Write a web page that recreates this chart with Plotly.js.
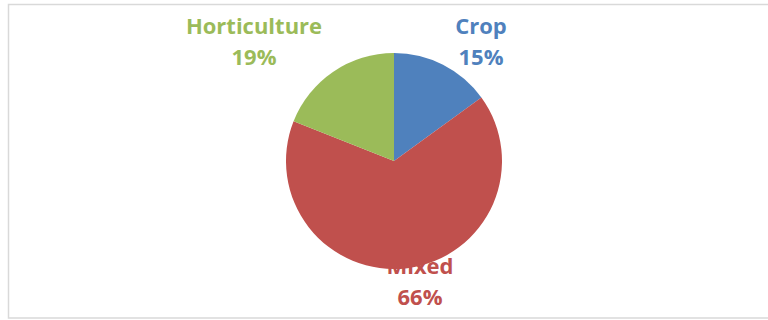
<!DOCTYPE html>
<html>
<head>
<meta charset="utf-8">
<script src="https://cdn.plot.ly/plotly-3.0.1.min.js"></script>
<style>html,body{margin:0;padding:0;background:#fff;}#chart{width:768px;height:320px;}</style>
</head>
<body>
<div id="chart"></div>
<script>
const categories = ["Crop", "Mixed", "Horticulture"];
const shares = [15, 66, 19];
const percentLabels = ["15%", "66%", "19%"];
const colors = ["#4F81BD", "#C0504D", "#9BBB59"];

// label centres in paper fractions (name line, percent line)
const labelPos = [
  {x: 481 / 768, y1: 1 - 27 / 320, y2: 1 - 58 / 320},
  {x: 420 / 768, y1: 1 - 267 / 320, y2: 1 - 298 / 320},
  {x: 254 / 768, y1: 1 - 27 / 320, y2: 1 - 58 / 320}
];

const shapes = [{
  type: "rect", xref: "paper", yref: "paper",
  x0: 8.5 / 768, x1: 1.02, y0: 2 / 320, y1: 1 - 4.5 / 320,
  line: {color: "#D9D9D9", width: 1.5}, fillcolor: "rgba(0,0,0,0)", layer: "below"
}];

categories.forEach((c, i) => {
  const p = labelPos[i];
  [[c, p.y1], [percentLabels[i], p.y2]].forEach(([t, y]) => {
    shapes.push({
      type: "rect", xref: "paper", yref: "paper", layer: "below",
      x0: p.x - 0.1, x1: p.x + 0.1, y0: y - 0.05, y1: y + 0.05,
      line: {width: 0, color: "rgba(0,0,0,0)"}, fillcolor: "rgba(0,0,0,0)",
      label: {text: "<b>" + t + "</b>", textposition: "middle center",
        font: {family: "Open Sans", size: 22, color: colors[i]}}
    });
  });
});

const data = [{
  type: "pie",
  labels: categories,
  values: shares,
  marker: {colors: colors, line: {width: 0}},
  sort: false,
  direction: "clockwise",
  rotation: 0,
  textinfo: "none",
  hoverinfo: "none",
  showlegend: false,
  domain: {x: [286 / 768, 502 / 768], y: [(320 - 269) / 320, (320 - 53) / 320]}
}];

const layout = {
  width: 768, height: 320,
  margin: {l: 0, r: 0, t: 0, b: 0},
  paper_bgcolor: "#FFFFFF",
  showlegend: false,
  shapes: shapes
};

Plotly.newPlot("chart", data, layout, {staticPlot: true});
</script>
</body>
</html>
